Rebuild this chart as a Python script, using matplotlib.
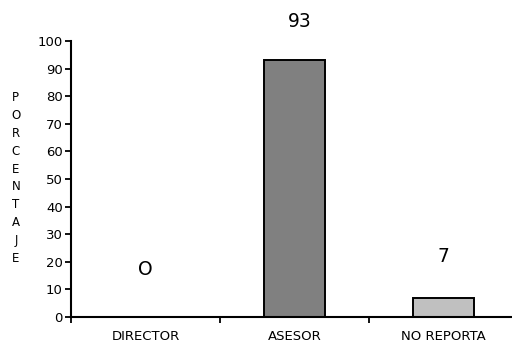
import numpy as np
import matplotlib.pyplot as plt

plt.rcParams['font.family'] = ['DejaVu Sans']

categorias = ['DIRECTOR', 'ASESOR', 'NO REPORTA']
porcentajes = [0, 93, 7]
etiquetas = ['O', '93', '7']
colores = ['#ffffff', '#808080', '#c0c0c0']

fig = plt.figure(figsize=(5.12, 3.43), dpi=100)
ax = fig.add_axes([0.1387, 0.0758, 0.873, 0.8047])

x = np.arange(len(categorias))
ax.bar(x, porcentajes, 0.41, color=colores, edgecolor='black', linewidth=1.4)

# etiquetas de valor sobre cada barra (desplazamiento en puntos)
desplaz = [34, 28, 30]
dx = [0, 4, 0]
for xi, v, lab, d, h in zip(x, porcentajes, etiquetas, desplaz, dx):
    ax.annotate(lab, (xi, v), xytext=(h, d), textcoords='offset points',
                ha='center', va='center', fontsize=13.5)

ax.set_xlim(-0.5, 2.5)
ax.set_ylim(0, 100)
ax.set_yticks(np.arange(0, 101, 10))
ax.tick_params(axis='y', labelsize=9.5, length=4, width=1.3, pad=2)

# ticks entre categorias, etiquetas al centro
ax.set_xticks(np.arange(-0.5, 2.6, 1))
ax.set_xticklabels([])
ax.set_xticks(x, minor=True)
ax.set_xticklabels(categorias, minor=True)
ax.tick_params(axis='x', which='major', length=4, width=1.3)
ax.tick_params(axis='x', which='minor', length=0, labelsize=9.5, pad=9)

for s in ['top', 'right']:
    ax.spines[s].set_visible(False)
for s in ['left', 'bottom']:
    ax.spines[s].set_linewidth(1.5)

fig.text(0.031, 0.481, '\n'.join('PORCENTAJE'), ha='center', va='center',
         fontsize=8.5, linespacing=1.49)

fig.savefig('out.png', dpi=100)
